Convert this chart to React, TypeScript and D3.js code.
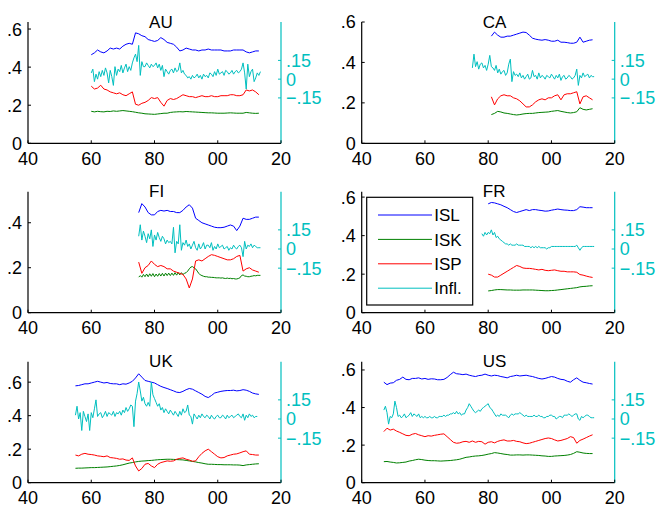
import React from 'react';
import * as d3 from 'd3';

// labour, capital, profit shares (annual unless noted) and inflation (half-yearly)
const auISL = [.465,.475,.49,.48,.475,.485,.50,.495,.50,.495, .51,.52,.525,.52,.58,.575,.565,.56,.545,.54, .535,.54,.555,.545,.53,.525,.52,.505,.485,.49, .50,.495,.49,.49,.485,.49,.49,.495,.49,.49, .49,.49,.485,.485,.485,.49,.49,.49,.49,.48, .475,.48,.485,.485];
const auISK = [.168,.165,.168,.166,.165,.168,.167,.170,.168,.170, .172,.170,.168,.166,.163,.160,.158,.155,.154,.153, .152,.154,.156,.158,.158,.162,.164,.165,.166,.165, .167,.166,.165,.164,.163,.162,.161,.160,.160,.159, .158,.158,.158,.159,.160,.159,.158,.158,.158,.162, .160,.158,.157,.158];
const auISP = [.30,.285,.29,.305,.285,.28,.27,.265,.26,.265, .255,.25,.26,.27,.205,.20,.21,.215,.225,.24, .235,.24,.215,.195,.225,.235,.23,.235,.245,.255, .25,.245,.245,.24,.245,.25,.245,.245,.25,.245, .245,.25,.25,.25,.255,.255,.25,.25,.255,.28, .275,.28,.27,.255];
const auINF = [.05,.08, -.02,.04, .00,.06, .02,.07, .03,.09, .05,-.03, .07,.02, -.05,.10, .03,.08, .06,.11,
  .05,.09, .12,.06, .10,.07, .13,.17, .20,.14, .27,.03, .14,.10, .10,.13, .11,.09, .12,.10,
  .11,.13, .09,.12, .07,.11, .02,.08, .06,.04, .07,.08, .05,.09, .06,.07, .13,.05, .07,.04,
  .03,.01, .02,.00, .03,.01, .02,.04, .01,.03, .00,.04, .02,.03, .01,.05, .04,.02, .06,.03,
  .08,.04, .05,.06, .03,.07, .06,.04, .05,.07, .04,.06, .07,.05, .06,.08, .13,.05, -.08,.12,
  .02,.06, .08,-.02, .01,.05, .03,.06];

const caISL = [.53,.55,.535,.525,.525,.53,.53,.535,.54,.545, .55,.548,.535,.52,.515,.512,.51,.513,.51,.505, .505,.51,.50,.50,.498,.495,.495,.50,.525,.50, .505,.51,.512];
const caISK = [.142,.148,.158,.155,.15,.148,.145,.142,.14,.142, .145,.147,.148,.148,.15,.152,.153,.154,.155,.158, .16,.162,.158,.155,.152,.15,.152,.156,.176,.168, .165,.168,.171];
const caISP = [.23,.19,.22,.235,.24,.235,.235,.225,.22,.21, .195,.18,.18,.19,.205,.215,.22,.215,.225,.225, .235,.24,.215,.24,.245,.245,.25,.255,.195,.23, .235,.225,.215];
const caINF = [.09,.20, .10,.14, .08,.12, .13,.09, .11,.07, .12,.19, .10,.09, .07,.11, .05,.08, .04,.06,
  .07,.03, .05,.12, .16,-.02, .06,.03, .04,.02, .05,.01, .03,.00, .02,.04, .00,.01, .07,.02,
  .03,.00, .05,.01, .03,.02, .00,.03, .02,.01, .04,.02, .00,.03, .01,.04, -.01,.02, .03,.00,
  .01,.03, .02,.00, .01,.03, .08,-.05, .03,.01, .05,.02, .03,.04, .01,.03, .02,.02];

const fiISL = [.445,.485,.47,.445,.435,.435,.45,.455,.452,.455, .45,.45,.445,.445,.455,.47,.48,.465,.42,.41, .40,.395,.39,.385,.38,.378,.378,.38,.385,.39, .385,.365,.385,.42,.415,.415,.42,.425,.425];
const fiISK = [.158,.165, .158,.170, .160,.172, .160,.173, .162,.174, .160,.172, .162,.174, .163,.175, .163,.176, .165,.176,
  .165,.176, .166,.178, .167,.178, .168,.178, .170,.175, .178,.185, .195,.203, .205,.200, .195,.185, .175,.168,
  .165,.162, .160,.160, .158,.158, .157,.157, .156,.155, .155,.155, .154,.155, .153,.152, .154,.152, .153,.151,
  .152,.150, .150,.152, .155,.165, .168,.163, .162,.160, .160,.162, .163,.165, .164,.166, .166,.166];
const fiISP = [.225,.175,.20,.21,.23,.215,.205,.21,.205,.195, .195,.185,.18,.175,.17,.15,.11,.15,.23,.235, .23,.24,.25,.258,.255,.25,.245,.24,.235,.235, .24,.25,.255,.185,.195,.20,.19,.185,.18];
const fiINF = [.10,.19, .07,.14, .10,.05, .12,.08, .15,.02, .11,.07, .13,.09, .06,.10, .08,.04, .07,.05,
  .06,.04, .17,-.03, .06,.04, .19,-.01, .05,.03, .07,.02, .04,.00, .03,.06, .01,-.01, .04,.00,
  .02,.05, .00,.03, .03,.01, .05,-.01, .02,.00, .04,.01, .02,.03, .00,.01, .02,-.01, .01,.00,
  .03,.01, .00,.02, .03,.01, -.06,.06, .00,.03, .02,.04, .01,.03, .02,.01, .01,.01];

const frISL = [.565,.572,.57,.565,.56,.552,.545,.535,.525,.52, .525,.53,.535,.53,.535,.535,.532,.53,.527,.528, .532,.535,.538,.535,.533,.532,.53,.53,.535,.55, .548,.545,.545,.545];
const frISK = [.113,.115,.118,.12,.12,.119,.118,.118,.117,.117, .117,.118,.118,.118,.118,.117,.116,.115,.114,.114, .115,.116,.118,.12,.122,.124,.126,.128,.13,.134, .136,.137,.139,.14];
const frISP = [.20,.195,.185,.185,.195,.205,.215,.225,.235,.245, .24,.232,.23,.23,.228,.225,.222,.225,.22,.218, .22,.222,.218,.215,.215,.212,.212,.212,.21,.198, .195,.19,.186,.183];
const frINF = [.12,.10, .13,.11, .13,.12, .15,.11, .13,.09, .10,.08, .07,.06, .05,.04, .04,.03, .04,.03,
  .03,.03, .04,.03, .03,.03, .03,.02, .02,.02, .02,.01, .02,.01, .02,.01, .02,.01, .01,.01,
  .01,.00, .01,.01, .02,.02, .02,.02, .02,.02, .02,.02, .02,.02, .02,.02, .02,.02, .02,.02,
  .03,.01, -.01,.01, .02,.02, .02,.02, .02,.02, .02,.02];

const ukISL = [.578,.58,.585,.59,.59,.595,.60,.605,.60,.595, .598,.592,.59,.59,.585,.59,.588,.595,.605,.625, .65,.63,.61,.605,.60,.595,.585,.575,.568,.562, .555,.548,.54,.538,.545,.555,.562,.558,.548,.538, .528,.515,.508,.52,.535,.54,.545,.548,.55,.55, .552,.548,.55,.555,.552,.545,.535,.53,.527];
const ukISK = [.086,.087,.087,.088,.089,.09,.09,.091,.092,.093, .094,.096,.098,.10,.103,.107,.112,.117,.12,.124, .127,.129,.13,.132,.133,.135,.137,.138,.139,.14, .14,.139,.138,.137,.136,.133,.13,.127,.124,.12, .117,.113,.11,.11,.109,.108,.108,.107,.107,.107, .106,.106,.105,.102,.106,.108,.11,.112,.113];
const ukISP = [.165,.16,.17,.175,.17,.168,.165,.16,.158,.155, .16,.15,.148,.145,.14,.142,.135,.133,.148,.10, .07,.085,.11,.115,.10,.09,.11,.12,.125,.13, .128,.13,.14,.145,.148,.14,.135,.128,.13,.155, .175,.19,.20,.185,.17,.155,.148,.15,.16,.165, .17,.172,.178,.185,.19,.17,.168,.165,.165];
const ukINF = [.03,.10, .00,.05, -.09,.06, .02,-.02, .04,-.09, .05,.01, .08,.15, .02,.04, .05,.01, .03,.06,
  .02,.05, .04,.03, .06,.02, .05,.04, .06,.03, .07,.05, .09,.06, .08,.11, .10,-.06, .14,.20,
  .29,.22, .14,.17, .12,.10, .13,.10, .29,.19, .16,.13, .10,.12, .07,.09, .05,.08, .06,.04,
  .07,.05, .03,.06, .04,.02, .06,.03, .08,.05, .06,.11, .03,.02, -.04,.04, .02,.00, .03,.01,
  .04,.02, .01,.03, .02,.00, .03,.01, .00,.02, .03,.01, .01,.03, .02,.00, .03,.01, .02,.03,
  .01,.02, .03,.04, .02,.01, .04,-.01, .03,.01, .04,.02, .03,.01, .02,.02];

const usISL = [.535,.522,.53,.532,.545,.55,.562,.55,.548,.555, .555,.558,.552,.555,.55,.553,.552,.548,.548,.55, .56,.575,.588,.58,.578,.575,.578,.572,.568,.565, .57,.572,.578,.572,.568,.572,.57,.565,.562,.558, .565,.568,.572,.568,.57,.572,.568,.565,.56,.555, .552,.555,.56,.565,.562,.555,.55,.548,.54,.535, .548,.558,.545,.535,.532,.528,.525];
const usISK = [.112,.113,.11,.108,.105,.106,.108,.11,.115,.118, .122,.125,.123,.12,.118,.117,.117,.116,.115,.116, .117,.118,.12,.122,.125,.13,.135,.137,.14,.142, .143,.145,.148,.152,.155,.16,.158,.155,.152,.15, .147,.147,.148,.148,.147,.148,.148,.147,.146,.145, .143,.142,.14,.14,.142,.143,.144,.145,.147,.15, .156,.165,.162,.158,.156,.155,.155];
const usISP = [.272,.29,.28,.285,.275,.268,.26,.252,.25,.258, .262,.255,.25,.245,.25,.248,.252,.255,.258,.26, .245,.23,.215,.21,.212,.218,.22,.215,.222,.215, .22,.218,.205,.215,.218,.212,.22,.225,.228,.222, .222,.225,.22,.218,.212,.208,.21,.215,.22,.225, .23,.235,.238,.235,.228,.222,.225,.23,.235,.245, .24,.21,.225,.232,.24,.248,.255];
const usINF = [.07,.10, .05,-.04, .02,.01, .04,.14, .09,.02, .03,.01, .02,.04, .01,.02, .03,.05, .02,.04,
  .03,.02, .04,.01, .02,.01, .02,.01, .01,.02, .01,.01, .02,.01, .01,.02, .02,.02, .03,.02,
  .03,.03, .04,.04, .05,.04, .06,.04, .05,.03, .04,.04, .07,.09, .12,.10, .08,.06, .05,.06,
  .07,.06, .08,.09, .10,.11, .12,.09, .08,.06, .04,.02, .03,.02, .04,.03, .03,.03, .02,.01,
  .03,.04, .03,.04, .04,.04, .05,.04, .03,.02, .03,.02, .02,.02, .02,.03, .02,.02, .03,.02,
  .02,.01, .01,.02, .02,.03, .03,.02, .02,.00, .01,.02, .02,.01, .03,.03, .03,.04, .03,.02,
  .03,.04, .04,.00, -.01,.02, .01,.02, .03,.03, .02,.01, .01,.01];

const yearTicks = [1940, 1960, 1980, 2000, 2020];
const yearLabels = ['40', '60', '80', '00', '20'];
const infTicks = [-0.15, 0, 0.15];
const infLabels = ['\u2212.15', '0', '.15'];
const seriesNames = ['ISL', 'ISK', 'ISP', 'Infl.'];
const colors = ['#0000ff', '#008000', '#ff0000', '#00bfbf'];

const panels = [
  { name: 'AU', col: 0, row: 0, yMax: 0.637, yTicks: [0, .2, .4, .6], start: 1960, iskStep: 1, infStart: 1960, isl: auISL, isk: auISK, isp: auISP, inf: auINF },
  { name: 'CA', col: 1, row: 0, yMax: 0.6, yTicks: [0, .2, .4, .6], start: 1981, iskStep: 1, infStart: 1975, isl: caISL, isk: caISK, isp: caISP, inf: caINF },
  { name: 'FI', col: 0, row: 1, yMax: 0.538, yTicks: [0, .2, .4], start: 1975, iskStep: 0.5, infStart: 1975, isl: fiISL, isk: fiISK, isp: fiISP, inf: fiINF },
  { name: 'FR', col: 1, row: 1, yMax: 0.628, yTicks: [0, .2, .4, .6], start: 1980, iskStep: 1, infStart: 1978, isl: frISL, isk: frISK, isp: frISP, inf: frINF },
  { name: 'UK', col: 0, row: 2, yMax: 0.722, yTicks: [0, .2, .4, .6], start: 1955, iskStep: 1, infStart: 1955, isl: ukISL, isk: ukISK, isp: ukISP, inf: ukINF },
  { name: 'US', col: 1, row: 2, yMax: 0.644, yTicks: [0, .2, .4, .6], start: 1947, iskStep: 1, infStart: 1947, isl: usISL, isk: usISK, isp: usISP, inf: usINF },
];

const colX = [[28, 281], [361.7, 614.7]];
const rowY = [[22, 143.3], [191.7, 312.7], [361.7, 482.7]];
const rightDomain = [[-0.513, 0.457], [-0.499, 0.449], [-0.499, 0.449]];
const font = '"Liberation Sans", Arial, Helvetica, sans-serif';
const fs = 18;

function fmtLeft(v: number) {
  return v === 0 ? '0' : '.' + Math.round(v * 10);
}

function Panel({ p }: { p: any }) {
  const [x0, x1] = colX[p.col];
  const [y0, y1] = rowY[p.row];
  const x = d3.scaleLinear().domain([1940, 2020]).range([x0, x1]);
  const y = d3.scaleLinear().domain([0, p.yMax]).range([y1, y0]);
  const yr = d3.scaleLinear().domain(rightDomain[p.row]).range([y1, y0]);

  const mk = (vals: number[], start: number, step: number, sc: any) =>
    d3.line<number>().x((_, i) => x(start + i * step)).y(v => sc(v))(vals) || '';

  const lines = [
    mk(p.isl, p.start, 1, y),
    mk(p.isk, p.start, p.iskStep, y),
    mk(p.isp, p.start, 1, y),
    mk(p.inf, p.infStart, 0.5, yr),
  ];

  return (
    <g>
      {lines.map((d, i) => (
        <path key={i} d={d} fill="none" stroke={colors[i]} strokeWidth={1} />
      ))}
      <line x1={x0} x2={x0} y1={y0} y2={y1} stroke="#000" strokeWidth={1.2} />
      <line x1={x0} x2={x1} y1={y1} y2={y1} stroke="#000" strokeWidth={1.2} />
      <line x1={x1} x2={x1} y1={y0} y2={y1} stroke={colors[3]} strokeWidth={1.2} />
      {p.yTicks.map((t: number) => (
        <g key={t}>
          <line x1={x0} x2={x0 + 3} y1={y(t)} y2={y(t)} stroke="#000" />
          <text x={x0 - 6} y={y(t)} dy="0.36em" textAnchor="end" fontSize={fs} fontFamily={font}>{fmtLeft(t)}</text>
        </g>
      ))}
      {yearTicks.map((t, i) => (
        <g key={t}>
          <line x1={x(t)} x2={x(t)} y1={y1} y2={y1 - 3} stroke="#000" />
          <text x={x(t)} y={y1 + 21.5} textAnchor="middle" fontSize={fs} fontFamily={font}>{yearLabels[i]}</text>
        </g>
      ))}
      {infTicks.map((t, i) => (
        <g key={t}>
          <line x1={x1} x2={x1 - 3} y1={yr(t)} y2={yr(t)} stroke={colors[3]} />
          <text x={x1 + 5} y={yr(t)} dy="0.36em" fontSize={fs} fill={colors[3]} fontFamily={font}>{infLabels[i]}</text>
        </g>
      ))}
      <text x={x(1978.3)} y={y0 + 5.5} fontSize={17} fontFamily={font}>{p.name}</text>
    </g>
  );
}

function Legend() {
  const lx = 366.7, ly = 197.3, lw = 106, lh = 107.7;
  return (
    <g>
      <rect x={lx} y={ly} width={lw} height={lh} fill="#fff" stroke="#000" strokeWidth={1.2} />
      {seriesNames.map((s, i) => {
        const yy = ly + 17.7 + i * 24.4;
        return (
          <g key={s}>
            <line x1={lx + 11.3} x2={lx + 65.3} y1={yy} y2={yy} stroke={colors[i]} strokeWidth={1} />
            <text x={lx + 67.6} y={yy} dy="0.36em" fontSize={17} fontFamily={font}>{s}</text>
          </g>
        );
      })}
    </g>
  );
}

export default function App() {
  return (
    <svg width={656} height={506} style={{ position: 'absolute', left: 0, top: 0, background: '#fff' }}>
      {panels.map(p => <Panel key={p.name} p={p} />)}
      <Legend />
    </svg>
  );
}
